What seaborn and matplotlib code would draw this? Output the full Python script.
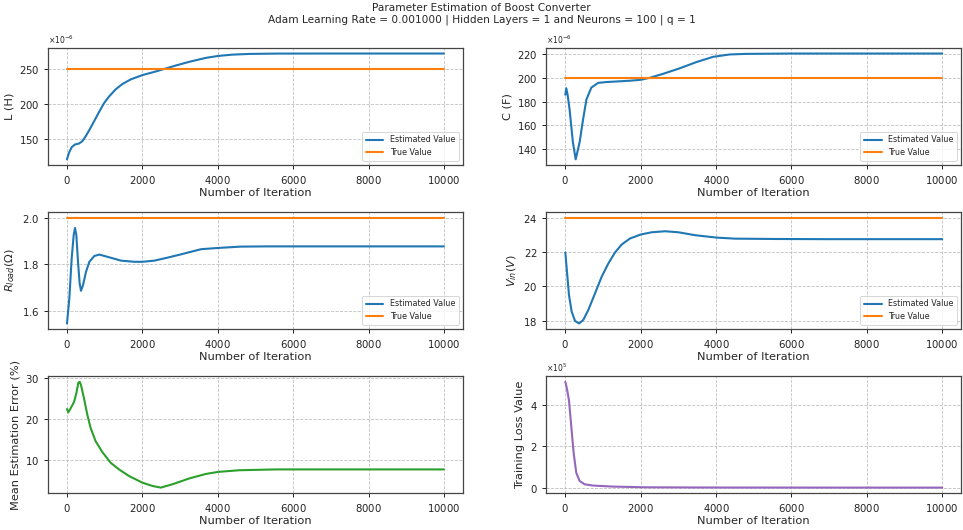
import numpy as np
import pandas as pd
import matplotlib
matplotlib.use("Agg")
import matplotlib.pyplot as plt
from matplotlib.ticker import MultipleLocator
import seaborn as sns

# ---------------- data ----------------
ITER_END = 10000

L_iter = [0, 53, 124, 212, 319, 407, 496, 584, 717, 850, 982, 1115, 1292, 1469, 1690, 2000,
          2354, 2531, 2885, 3239, 3681, 4009, 4389, 4832, 5540, 7000, 10000]
L_est = [120.5, 130.0, 138.0, 141.9, 143.3, 146.7, 153.8, 161.9, 175.2, 188.6, 201.4, 211.0,
         221.4, 229.0, 235.7, 241.9, 247.1, 250.0, 255.7, 261.0, 266.7, 269.5, 271.4, 272.4,
         272.9, 273.0, 273.0]
L_true = 250.0

C_iter = [0, 25, 60, 115, 200, 275, 380, 470, 560, 690, 870, 1090, 1700, 2000, 2240, 2590,
          3035, 3480, 3920, 4360, 4800, 6000, 8000, 10000]
C_est = [186.0, 191.5, 186.0, 173.0, 146.0, 131.4, 146.0, 165.0, 182.0, 192.0, 196.0, 196.7,
         197.8, 198.6, 200.3, 203.6, 208.3, 213.6, 218.0, 220.0, 220.5, 220.8, 220.8, 220.8]
C_true = 200.0

R_iter = [0, 62, 124, 177, 212, 248, 292, 336, 372, 425, 504, 593, 726, 858, 1080, 1434, 1788,
          2000, 2319, 2673, 3027, 3558, 3982, 4600, 5300, 7000, 10000]
R_est = [1.547, 1.654, 1.825, 1.925, 1.956, 1.925, 1.811, 1.718, 1.687, 1.711, 1.768, 1.811,
         1.836, 1.842, 1.832, 1.816, 1.811, 1.811, 1.816, 1.829, 1.843, 1.865, 1.870, 1.876,
         1.877, 1.877, 1.877]
R_true = 2.0

V_iter = [0, 44, 97, 168, 257, 363, 478, 611, 788, 965, 1142, 1319, 1496, 1717, 2000, 2292,
          2646, 3000, 3442, 4018, 4504, 5566, 7000, 10000]
V_est = [21.98, 20.85, 19.50, 18.54, 18.00, 17.85, 18.06, 18.64, 19.60, 20.57, 21.34, 21.98,
         22.44, 22.79, 23.02, 23.15, 23.21, 23.15, 22.98, 22.84, 22.78, 22.76, 22.75, 22.75]
V_true = 24.0

E_iter = [0, 35, 97, 186, 248, 301, 336, 372, 451, 540, 628, 761, 938, 1159, 1381, 1646, 2000,
          2265, 2487, 2796, 3239, 3681, 4009, 4566, 5540, 7000, 10000]
E_val = [22.4, 21.6, 22.6, 24.1, 26.2, 28.8, 29.0, 28.2, 25.0, 21.0, 17.8, 14.6, 12.0, 9.4, 7.8,
         6.2, 4.6, 3.8, 3.4, 4.2, 5.6, 6.7, 7.2, 7.6, 7.8, 7.8, 7.8]

T_iter = [0, 44, 97, 159, 221, 291, 380, 512, 733, 1262, 2145, 4000, 7000, 10000]
T_loss = [5.11, 4.76, 4.21, 2.94, 1.67, 0.71, 0.32, 0.16, 0.10, 0.05, 0.016, 0.005, 0.002, 0.001]

TITLE = ("Parameter Estimation of Boost Converter\n"
         "Adam Learning Rate = 0.001000 | Hidden Layers = 1 and Neurons = 100 | q = 1")
XLABEL = "Number of Iteration"

# ---------------- style ----------------
sns.set_theme(style="ticks")
plt.rcParams.update({
    "font.family": ["DejaVu Sans"],
    "axes.edgecolor": "#444444",
    "axes.linewidth": 0.9,
    "xtick.color": "#222222",
    "ytick.color": "#222222",
    "xtick.labelsize": 7.3,
    "ytick.labelsize": 7.3,
    "axes.labelsize": 8.2,
    "xtick.major.size": 3,
    "ytick.major.size": 3,
    "xtick.major.width": 0.7,
    "ytick.major.width": 0.7,
    "axes.formatter.use_mathtext": True,
})

blue, orange, green, purple = "#1f77b4", "#ff7f0e", "#2ca02c", "#9467bd"

fig, axes = plt.subplots(3, 2, figsize=(9.63, 5.30), dpi=100)
fig.subplots_adjust(left=0.05, right=0.998, top=0.909, bottom=0.07, wspace=0.202, hspace=0.41)


def param_panel(ax, it, est, true, scale, ylabel, sci=None):
    df = pd.DataFrame({"iter": it, "val": np.array(est) * scale})
    sns.lineplot(data=df, x="iter", y="val", ax=ax, color=blue, lw=1.5,
                 label="Estimated Value", estimator=None, sort=False)
    dt = pd.DataFrame({"iter": [0, ITER_END], "val": [true * scale, true * scale]})
    sns.lineplot(data=dt, x="iter", y="val", ax=ax, color=orange, lw=1.5,
                 label="True Value", estimator=None)
    ax.set_ylabel(ylabel)
    ax.set_xlabel(XLABEL)
    if sci is not None:
        ax.ticklabel_format(axis="y", style="sci", scilimits=(sci, sci), useMathText=True)
        ax.yaxis.get_offset_text().set_fontsize(5.5)
    leg = ax.legend(loc="lower right", fontsize=5.8, frameon=True, handlelength=2.2,
                    borderpad=0.45, labelspacing=0.45)
    leg.get_frame().set_edgecolor("#cccccc")
    leg.get_frame().set_linewidth(0.7)


param_panel(axes[0, 0], L_iter, L_est, L_true, 1e-6, "L (H)", sci=-6)
param_panel(axes[0, 1], C_iter, C_est, C_true, 1e-6, "C (F)", sci=-6)
param_panel(axes[1, 0], R_iter, R_est, R_true, 1.0, r"$R_{load}(\Omega)$")
param_panel(axes[1, 1], V_iter, V_est, V_true, 1.0, r"$V_{in}(V)$")
axes[1, 0].yaxis.set_major_locator(MultipleLocator(0.2))

ax = axes[2, 0]
sns.lineplot(x=E_iter, y=E_val, ax=ax, color=green, lw=1.5, estimator=None, sort=False)
ax.set_ylabel("Mean Estimation Error (%)")
ax.set_xlabel(XLABEL)

ax = axes[2, 1]
sns.lineplot(x=T_iter, y=np.array(T_loss) * 1e5, ax=ax, color=purple, lw=1.5, estimator=None, sort=False)
ax.set_ylabel("Training Loss Value")
ax.set_xlabel(XLABEL)
ax.ticklabel_format(axis="y", style="sci", scilimits=(5, 5), useMathText=True)
ax.yaxis.get_offset_text().set_fontsize(5.5)

for ax in axes.flat:
    ax.set_xticks([0, 2000, 4000, 6000, 8000, 10000])
    ax.grid(True, linestyle="--", color="#b0b0b0", linewidth=0.6, alpha=0.8)
    ax.xaxis.labelpad = 1.5
    ax.yaxis.labelpad = 3

fig.suptitle(TITLE, fontsize=7.6, y=0.995, linespacing=1.25)

fig.savefig("out.png", dpi=100)
